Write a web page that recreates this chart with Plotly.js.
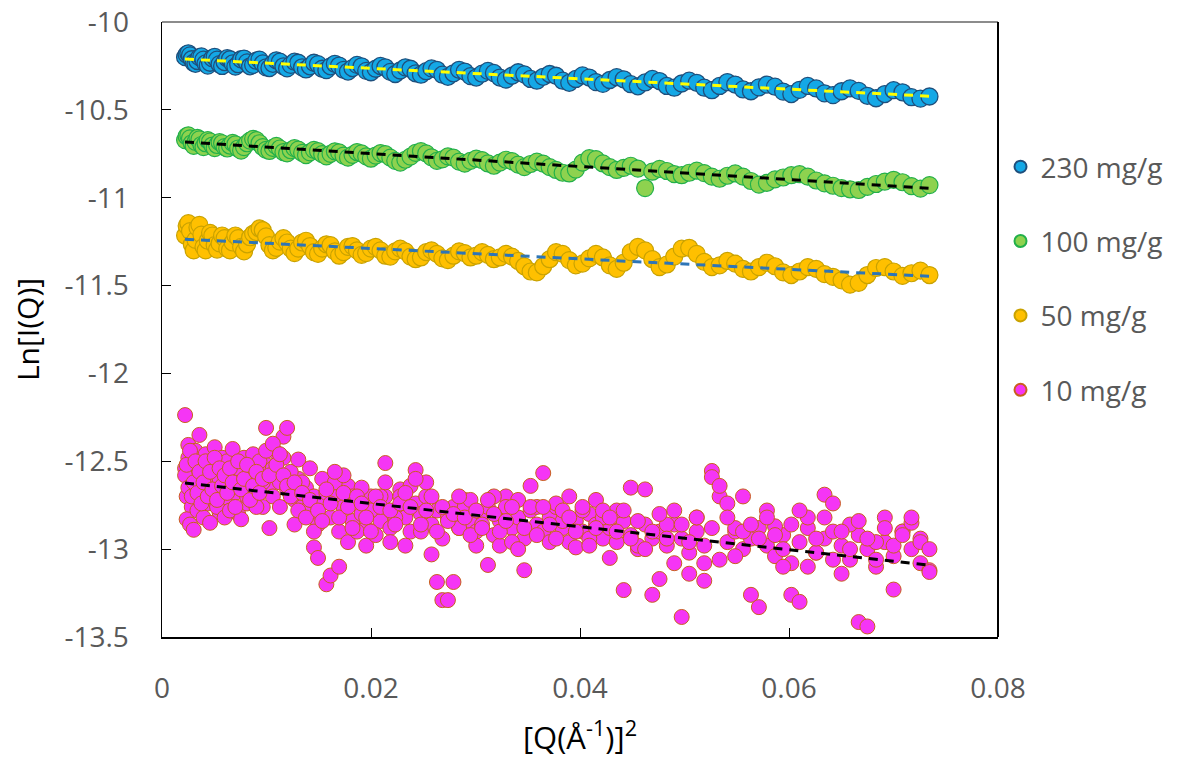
<!DOCTYPE html>
<html>
<head>
<meta charset="utf-8">
<script src="https://cdn.plot.ly/plotly-3.0.1.min.js"></script>
<style>
html,body{margin:0;padding:0;background:#fff;}
#chart{width:1180px;height:775px;}
</style>
</head>
<body>
<div id="chart"></div>
<script>
// Q^2 grid (Å^-2)
const q2 = [
0.00221,0.00236,0.00252,0.00268,0.00285,0.00303,0.00320,0.00339,0.00358,0.00377,
0.00397,0.00417,0.00438,0.00460,0.00482,0.00504,0.00527,0.00551,0.00575,0.00599,
0.00624,0.00650,0.00676,0.00702,0.00729,0.00757,0.00785,0.00814,0.00843,0.00872,
0.00903,0.00933,0.00964,0.00996,0.01028,0.01061,0.01094,0.01128,0.01162,0.01197,
0.01232,0.01268,0.01304,0.01341,0.01378,0.01416,0.01454,0.01493,0.01533,0.01573,
0.01613,0.01654,0.01695,0.01737,0.01780,0.01823,0.01866,0.01910,0.01954,0.01999,
0.02045,0.02091,0.02137,0.02185,0.02232,0.02280,0.02329,0.02378,0.02427,0.02478,
0.02528,0.02579,0.02631,0.02683,0.02736,0.02789,0.02843,0.02897,0.02952,0.03007,
0.03063,0.03119,0.03176,0.03233,0.03291,0.03349,0.03408,0.03467,0.03527,0.03587,
0.03648,0.03710,0.03771,0.03834,0.03897,0.03960,0.04024,0.04089,0.04153,0.04219,
0.04285,0.04351,0.04418,0.04486,0.04554,0.04623,0.04692,0.04761,0.04831,0.04902,
0.04973,0.05045,0.05117,0.05189,0.05262,0.05336,0.05410,0.05485,0.05560,0.05636,
0.05712,0.05789,0.05866,0.05944,0.06022,0.06101,0.06180,0.06260,0.06340,0.06421,
0.06503,0.06584,0.06667,0.06750,0.06833,0.06917,0.07001,0.07086,0.07172,0.07258,
0.07344];

// Ln[I(Q)] — 230 mg/g
const y230 = [
-10.200,-10.185,-10.178,-10.190,-10.212,-10.232,-10.238,-10.222,-10.200,-10.196,
-10.214,-10.236,-10.248,-10.232,-10.206,-10.198,-10.214,-10.240,-10.250,-10.228,
-10.206,-10.212,-10.236,-10.254,-10.240,-10.212,-10.208,-10.230,-10.252,-10.244,
-10.220,-10.214,-10.236,-10.258,-10.262,-10.238,-10.218,-10.226,-10.252,-10.264,
-10.244,-10.226,-10.232,-10.258,-10.270,-10.252,-10.232,-10.240,-10.266,-10.274,
-10.252,-10.238,-10.248,-10.272,-10.282,-10.262,-10.244,-10.252,-10.278,-10.286,
-10.266,-10.250,-10.258,-10.284,-10.296,-10.276,-10.258,-10.266,-10.292,-10.300,
-10.280,-10.264,-10.272,-10.300,-10.312,-10.292,-10.272,-10.282,-10.308,-10.316,
-10.294,-10.278,-10.290,-10.316,-10.328,-10.306,-10.286,-10.298,-10.324,-10.334,
-10.312,-10.296,-10.306,-10.334,-10.346,-10.324,-10.304,-10.316,-10.342,-10.352,
-10.330,-10.314,-10.326,-10.354,-10.366,-10.344,-10.324,-10.336,-10.364,-10.374,
-10.350,-10.334,-10.346,-10.374,-10.388,-10.364,-10.342,-10.356,-10.384,-10.394,
-10.372,-10.356,-10.368,-10.396,-10.410,-10.386,-10.364,-10.378,-10.406,-10.416,
-10.394,-10.378,-10.392,-10.420,-10.434,-10.410,-10.388,-10.400,-10.428,-10.436,
-10.424];

// Ln[I(Q)] — 100 mg/g
const y100 = [
-10.672,-10.650,-10.645,-10.662,-10.690,-10.705,-10.682,-10.660,-10.668,-10.700,
-10.712,-10.690,-10.672,-10.680,-10.703,-10.718,-10.700,-10.684,-10.690,-10.712,
-10.720,-10.703,-10.688,-10.696,-10.720,-10.732,-10.712,-10.690,-10.675,-10.665,
-10.672,-10.690,-10.712,-10.728,-10.734,-10.716,-10.705,-10.720,-10.740,-10.748,
-10.730,-10.718,-10.726,-10.745,-10.758,-10.742,-10.728,-10.735,-10.752,-10.765,
-10.750,-10.736,-10.742,-10.760,-10.772,-10.756,-10.740,-10.748,-10.765,-10.778,
-10.760,-10.746,-10.752,-10.772,-10.790,-10.800,-10.784,-10.766,-10.745,-10.735,
-10.748,-10.770,-10.790,-10.782,-10.765,-10.772,-10.795,-10.806,-10.790,-10.778,
-10.786,-10.805,-10.818,-10.800,-10.784,-10.792,-10.812,-10.826,-10.808,-10.795,
-10.806,-10.826,-10.842,-10.858,-10.862,-10.840,-10.800,-10.775,-10.780,-10.805,
-10.826,-10.842,-10.830,-10.818,-10.834,-10.945,-10.852,-10.836,-10.848,-10.866,
-10.872,-10.858,-10.846,-10.860,-10.880,-10.892,-10.875,-10.862,-10.880,-10.905,
-10.925,-10.915,-10.896,-10.885,-10.872,-10.866,-10.880,-10.902,-10.918,-10.932,
-10.945,-10.952,-10.956,-10.938,-10.922,-10.908,-10.898,-10.912,-10.934,-10.948,
-10.928];

// Ln[I(Q)] — 50 mg/g
const y50 = [
-11.215,-11.160,-11.145,-11.190,-11.265,-11.300,-11.240,-11.170,-11.155,-11.210,
-11.280,-11.300,-11.245,-11.200,-11.215,-11.270,-11.295,-11.260,-11.215,-11.230,
-11.290,-11.300,-11.255,-11.215,-11.230,-11.280,-11.305,-11.265,-11.225,-11.205,
-11.195,-11.175,-11.185,-11.220,-11.270,-11.300,-11.285,-11.250,-11.230,-11.255,
-11.290,-11.315,-11.290,-11.255,-11.245,-11.275,-11.310,-11.320,-11.290,-11.265,
-11.270,-11.305,-11.330,-11.310,-11.280,-11.275,-11.300,-11.325,-11.315,-11.290,
-11.280,-11.300,-11.330,-11.335,-11.305,-11.290,-11.305,-11.335,-11.350,-11.340,
-11.310,-11.300,-11.320,-11.345,-11.355,-11.330,-11.305,-11.315,-11.340,-11.330,
-11.310,-11.325,-11.350,-11.340,-11.320,-11.335,-11.360,-11.390,-11.420,-11.425,
-11.390,-11.350,-11.310,-11.320,-11.355,-11.385,-11.375,-11.345,-11.320,-11.340,
-11.385,-11.405,-11.370,-11.310,-11.280,-11.300,-11.350,-11.395,-11.380,-11.335,
-11.290,-11.285,-11.320,-11.365,-11.395,-11.385,-11.360,-11.375,-11.405,-11.420,
-11.395,-11.370,-11.390,-11.425,-11.440,-11.420,-11.395,-11.405,-11.435,-11.450,
-11.470,-11.495,-11.485,-11.440,-11.400,-11.395,-11.420,-11.445,-11.430,-11.415,
-11.440];

// Ln[I(Q)] — 10 mg/g (three frames on the same grid)
const y10a = [
-12.540,-12.700,-12.480,-12.620,-12.760,-12.580,-12.660,-12.520,-12.710,-12.600,
-12.680,-12.560,-12.740,-12.610,-12.530,-12.700,-12.640,-12.790,-12.580,-12.660,
-12.600,-12.720,-12.540,-12.680,-12.800,-12.620,-12.560,-12.740,-12.650,-12.590,
-12.700,-12.580,-12.760,-12.520,-12.640,-12.700,-12.560,-12.620,-12.480,-12.660,
-12.580,-12.720,-12.600,-12.760,-12.650,-12.800,-12.700,-12.860,-12.740,-12.680,
-12.820,-12.700,-12.900,-12.760,-12.640,-12.840,-12.720,-12.800,-12.880,-12.700,
-12.760,-12.840,-12.700,-12.880,-12.780,-12.660,-12.820,-12.900,-12.740,-12.800,
-12.700,-12.860,-12.780,-12.940,-12.820,-12.760,-12.880,-12.720,-12.840,-12.900,
-12.800,-12.760,-12.920,-12.840,-12.700,-12.880,-12.820,-12.940,-12.780,-12.860,
-12.900,-12.820,-12.760,-12.880,-12.960,-12.840,-12.900,-12.800,-12.860,-12.940,
-12.880,-12.960,-12.840,-12.920,-13.000,-12.860,-12.940,-12.900,-12.980,-12.860,
-12.940,-13.020,-12.900,-12.980,-12.880,-13.060,-12.960,-12.900,-13.000,-12.940,
-12.880,-12.980,-13.040,-12.920,-13.080,-12.960,-12.880,-13.020,-12.940,-13.060,
-12.980,-13.060,-12.920,-13.000,-13.100,-12.960,-13.040,-12.900,-13.000,-13.080,
-13.120];
const y10b = [
-12.237,-12.830,-12.407,-12.860,-12.500,-12.890,-12.440,-12.780,-12.350,-12.560,
-12.820,-12.460,-12.620,-12.850,-12.520,-12.420,-12.760,-12.600,-12.480,-12.820,
-12.500,-12.780,-12.430,-12.620,-12.540,-12.830,-12.480,-12.700,-12.580,-12.460,
-12.760,-12.500,-12.620,-12.310,-12.880,-12.540,-12.450,-12.760,-12.360,-12.310,
-12.560,-12.860,-12.490,-12.620,-12.780,-12.540,-12.990,-13.050,-12.600,-13.200,
-13.150,-12.620,-13.100,-12.580,-12.960,-12.700,-12.900,-12.650,-12.980,-12.780,
-12.920,-12.700,-12.510,-12.960,-12.820,-12.700,-12.980,-12.640,-12.550,-12.900,
-12.620,-13.030,-13.187,-13.290,-13.290,-13.187,-12.880,-12.760,-12.720,-12.980,
-12.860,-13.090,-12.700,-12.980,-12.760,-12.960,-12.720,-13.120,-12.640,-12.760,
-12.567,-12.960,-12.740,-12.840,-12.700,-12.990,-12.780,-12.940,-12.720,-12.820,
-13.050,-12.780,-13.233,-12.650,-12.980,-12.660,-13.260,-13.170,-12.860,-13.080,
-13.386,-13.140,-12.820,-13.180,-12.555,-12.700,-12.740,-12.880,-12.700,-13.260,
-13.330,-12.780,-12.870,-13.100,-13.260,-13.300,-12.820,-13.020,-12.690,-12.740,
-13.140,-12.860,-13.415,-13.440,-12.960,-12.820,-13.230,-12.900,-12.850,-12.940,
-13.130];
const y10c = [
-12.580,-12.520,-12.650,-12.440,-12.700,-12.620,-12.500,-12.680,-12.560,-12.740,
-12.620,-12.500,-12.700,-12.560,-12.660,-12.480,-12.720,-12.540,-12.640,-12.580,
-12.680,-12.540,-12.620,-12.760,-12.500,-12.660,-12.600,-12.520,-12.720,-12.640,
-12.560,-12.680,-12.600,-12.440,-12.580,-12.400,-12.520,-12.460,-12.580,-12.640,
-12.700,-12.620,-12.780,-12.680,-12.820,-12.720,-12.900,-12.780,-12.840,-12.660,
-12.740,-12.560,-12.820,-12.680,-12.760,-12.880,-12.700,-12.740,-12.820,-12.900,
-12.700,-12.760,-12.620,-12.780,-12.860,-12.740,-12.680,-12.760,-12.600,-12.860,
-12.780,-12.700,-12.900,-12.760,-12.840,-12.800,-12.700,-12.820,-12.920,-12.780,
-12.880,-12.720,-12.800,-12.900,-12.840,-12.760,-13.000,-12.880,-12.760,-12.920,
-12.760,-12.860,-12.940,-12.780,-12.820,-12.900,-12.760,-12.980,-12.880,-12.780,
-12.820,-12.900,-12.780,-12.940,-12.840,-13.000,-12.900,-12.800,-12.940,-12.780,
-12.860,-12.960,-12.820,-13.080,-12.590,-12.640,-12.820,-13.040,-12.900,-12.860,
-12.940,-12.820,-12.920,-13.000,-12.860,-12.780,-13.100,-12.940,-12.820,-12.900,
-12.900,-13.000,-12.840,-12.940,-13.060,-12.880,-12.980,-12.920,-12.820,-12.960,
-13.000];

// linear (Guinier) fits: end points
const fitX = [0.0022, 0.0734];
const fit230 = [-10.211, -10.422];
const fit100 = [-10.683, -10.946];
const fit50  = [-11.236, -11.447];
const fit10  = [-12.624, -13.091];

const names = ['230 mg/g', '100 mg/g', '50 mg/g', '10 mg/g'];
const xTicks = [0, 0.02, 0.04, 0.06, 0.08];
const xTickText = ['0', '0.02', '0.04', '0.06', '0.08'];
const yTicks = [-13.5, -13, -12.5, -12, -11.5, -11, -10.5, -10];
const yTickText = ['-13.5', '-13', '-12.5', '-12', '-11.5', '-11', '-10.5', '-10'];

function pts(x, y, name, fill, edge, grp, size, lw) {
  return {type: 'scatter', mode: 'markers', x: x, y: y, name: name, legendgroup: grp,
    marker: {size: size, color: fill, line: {color: edge, width: lw}}, hoverinfo: 'x+y'};
}
function fit(y, color) {
  return {type: 'scatter', mode: 'lines', x: fitX, y: y, showlegend: false,
    line: {color: color, width: 3, dash: '9px,7px'}, hoverinfo: 'skip'};
}

const data = [
  pts(q2, y230, names[0], '#14a8e6', '#1f4f7c', 'g1', 17, 1.3),
  pts(q2, y100, names[1], '#8ed24f', '#22b04a', 'g2', 17, 1.2),
  pts(q2, y50, names[2], '#ffc000', '#c9a200', 'g3', 17, 1.2),
  pts(q2.concat(q2, q2), y10a.concat(y10b, y10c), names[3], '#f535f5', '#c8601c', 'g4', 15, 1),
  fit(fit230, '#ffff00'),
  fit(fit100, '#000000'),
  fit(fit50, '#2e75b6'),
  fit(fit10, '#000000')
];

const FONT = 'Open Sans, Noto Sans, sans-serif';
const tickFont = {family: FONT, size: 28, color: '#595959'};
const layout = {
  width: 1180, height: 775,
  margin: {l: 162, r: 178, t: 22, b: 138},
  paper_bgcolor: '#ffffff', plot_bgcolor: '#ffffff',
  showlegend: true,
  legend: {x: 1.003, xanchor: 'left', y: 0.805, yanchor: 'top',
    font: {family: FONT, size: 28, color: '#595959'},
    traceorder: 'grouped', tracegroupgap: 35, itemsizing: 'constant', bgcolor: 'rgba(0,0,0,0)'},
  xaxis: {range: [0, 0.08], tickvals: xTicks, ticktext: xTickText,
    ticks: 'inside', ticklen: 9, tickcolor: '#000', tickwidth: 1,
    showline: true, linecolor: '#000', linewidth: 1.5, mirror: false,
    showgrid: false, zeroline: false, tickfont: tickFont, ticklabelstandoff: 26,
    title: {text: '[Q(Å<sup>-1</sup>)]<sup>2</sup>', standoff: 22,
      font: {family: FONT, size: 31, color: '#000'}}},
  yaxis: {range: [-13.5, -10], tickvals: yTicks, ticktext: yTickText,
    ticks: 'inside', ticklen: 9, tickcolor: '#000', tickwidth: 1,
    showline: true, linecolor: '#000', linewidth: 1.5, mirror: false,
    showgrid: false, zeroline: false, tickfont: tickFont, ticklabelstandoff: 26,
    title: {text: 'Ln[I(Q)]', standoff: 16,
      font: {family: FONT, size: 30, color: '#000'}}},
  shapes: [
    {type: 'line', xref: 'paper', yref: 'paper', x0: 0, x1: 1, y0: 1, y1: 1,
      line: {color: '#8c8c8c', width: 2}},
    {type: 'line', xref: 'paper', yref: 'paper', x0: 1, x1: 1, y0: 0, y1: 1,
      line: {color: '#000', width: 2}}
  ]
};

Plotly.newPlot('chart', data, layout, {displayModeBar: false, staticPlot: true});
</script>
</body>
</html>
